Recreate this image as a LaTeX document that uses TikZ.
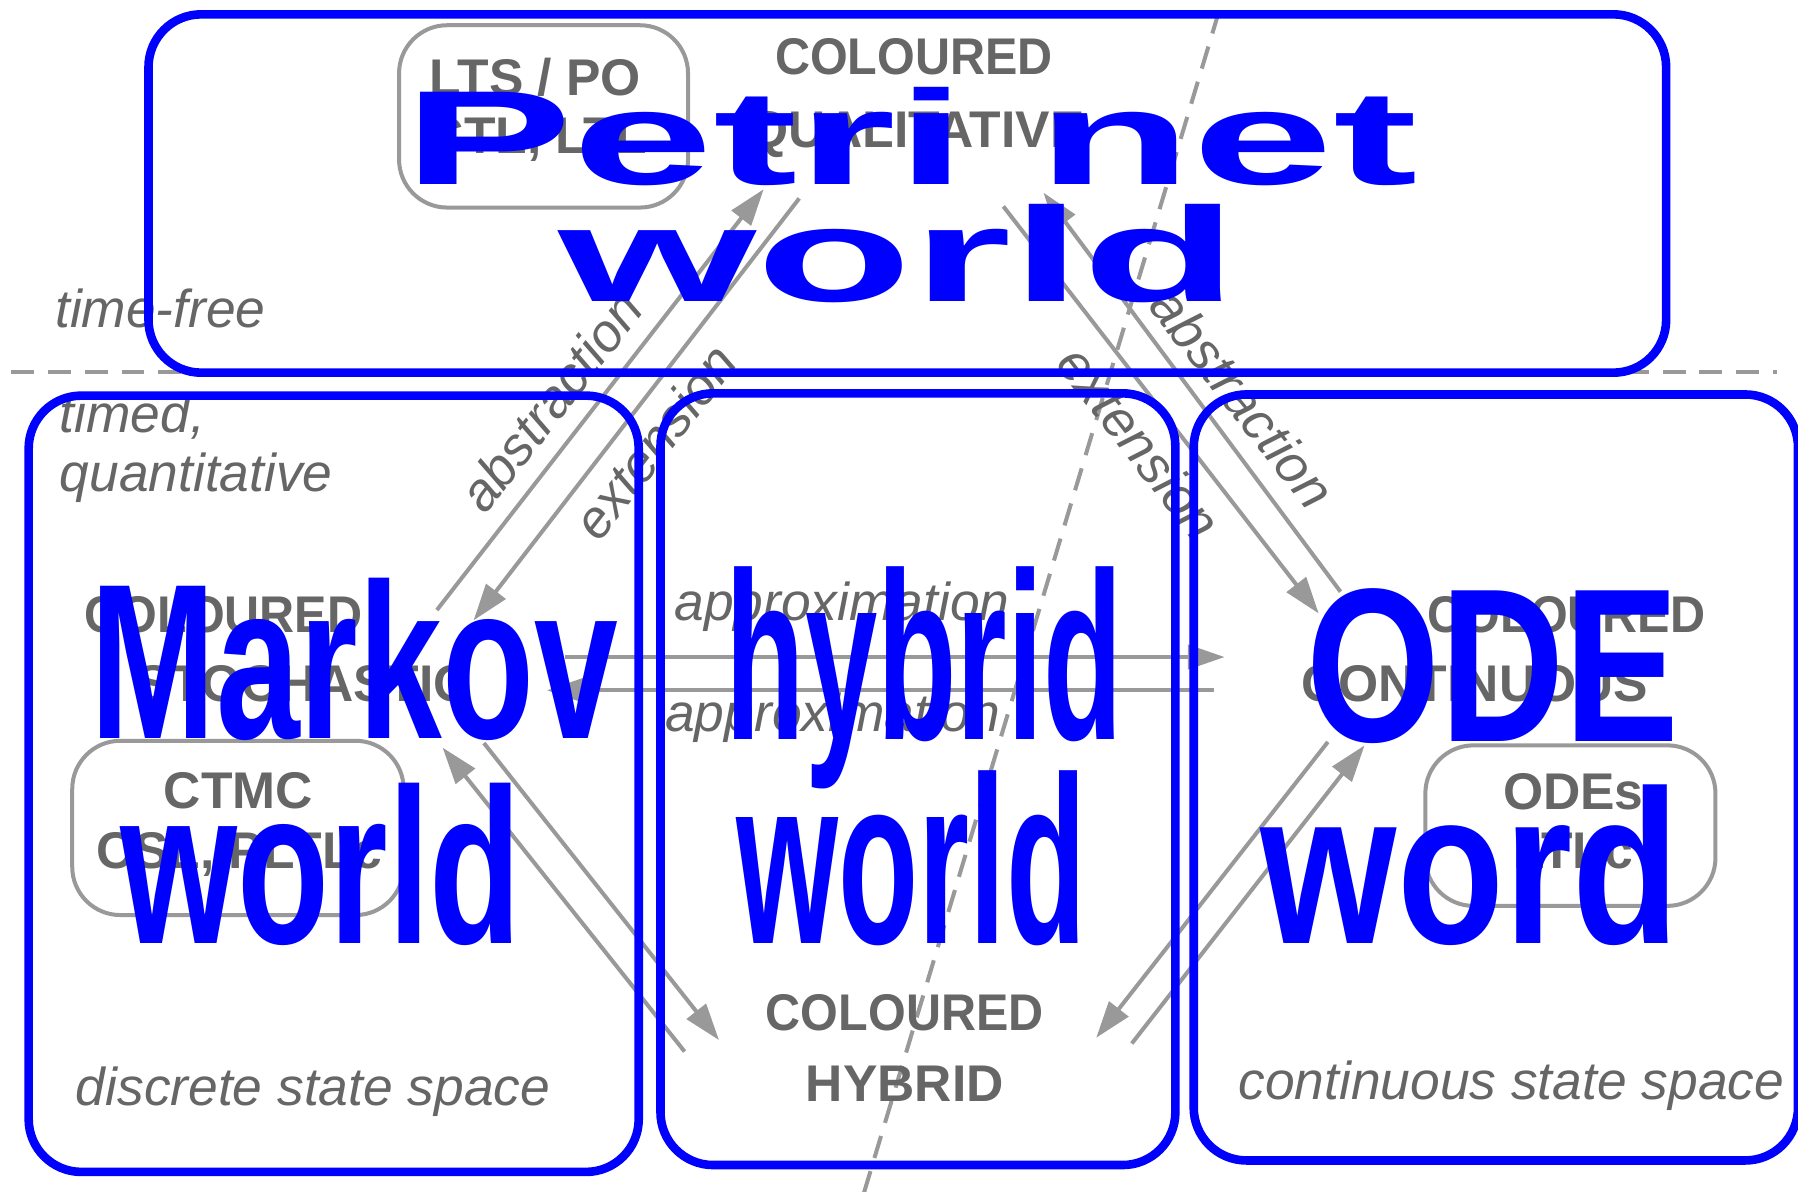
\documentclass[tikz,border=0pt]{standalone}
\usepackage{fontspec}
\usepackage{graphicx}
\setmainfont{Liberation Sans}
\usetikzlibrary{arrows.meta}
\definecolor{wblue}{HTML}{0000FF}
\definecolor{lgray}{HTML}{999999}
\definecolor{tgray}{HTML}{666666}
\newcommand{\narrowcol}{\scalebox{0.94}[1]{COLOURED}}
\begin{document}
\begin{tikzpicture}[x=1pt,y=-1pt,
  worldbox/.style={draw=wblue, line width=7.5pt, rounded corners=46pt},
  toolbox/.style={draw=lgray, line width=3.5pt, rounded corners=42pt},
  divider/.style={draw=lgray, line width=3.5pt, dash pattern=on 20pt off 12pt},
  conn/.style={draw=lgray, line width=3.5pt, -{Triangle[length=32pt,width=21pt]}},
  gtext/.style={text=tgray, font=\fontsize{45}{52}\selectfont\bfseries, inner sep=0pt, anchor=base},
  itext/.style={text=tgray, font=\fontsize{46.5}{52}\selectfont\itshape, inner sep=0pt},
  btext/.style={text=wblue, inner sep=0pt, anchor=base},
]
\useasboundingbox (0,0) rectangle (1568,1039);

% dividers
\coordinate (hdL) at (10,324); \coordinate (hdR) at (1550,324);
\coordinate (ddT) at (1063,10); \coordinate (ddB) at (752,1045);
\draw[divider] (hdL) -- (hdR);
\draw[divider] (ddT) -- (ddB);

% tool boxes
\draw[toolbox] (348,22) rectangle (600,181);
\draw[toolbox] (63,646) rectangle (352,798);
\draw[toolbox] (1243,650) rectangle (1496,790);

% grey texts
\node[gtext] (ltspo) at (467,83) {LTS / PO};
\node[gtext] (ctlltl) at (468,134) {CTL, LTL};
\node[gtext] (colq1) at (797,65) {\narrowcol};
\node[gtext] (colq2) at (799,129) {QUALITATIVE};
\node[gtext] (cols1) at (195,552) {\narrowcol};
\node[gtext] (cols2) at (265,612) {STOCHASTIC};
\node[gtext] (ctmc) at (208,705) {CTMC};
\node[gtext] (csl) at (209,757) {CSL, PLTLc};
\node[gtext] (colh1) at (789,899) {\narrowcol};
\node[gtext] (colh2) at (789,961) {HYBRID};
\node[gtext] (colc1) at (1366,552) {\narrowcol};
\node[gtext] (colc2) at (1286,612) {CONTINUOUS};
\node[gtext] (odes) at (1372,706) {ODEs};
\node[gtext] (ltlc) at (1372,757) {LTLc};

% connectors
\coordinate (a1s) at (381,532);  \coordinate (a1e) at (666,165);
\coordinate (a2s) at (697,173);  \coordinate (a2e) at (413,541);
\coordinate (a3s) at (875,180);  \coordinate (a3e) at (1150,535);
\coordinate (a4s) at (1169,516); \coordinate (a4e) at (910,168);
\coordinate (a5s) at (493,573);  \coordinate (a5e) at (1068,573);
\coordinate (a6s) at (1059,602); \coordinate (a6e) at (477,602);
\coordinate (a7s) at (422,648);  \coordinate (a7e) at (627,907);
\coordinate (a8s) at (597,917);  \coordinate (a8e) at (386,652);
\coordinate (a9s) at (1158,647); \coordinate (a9e) at (956,905);
\coordinate (a10s) at (987,910); \coordinate (a10e) at (1190,650);
\foreach \i in {1,...,10} \draw[conn] (a\i s) -- (a\i e);

% connector labels
\node[itext, rotate=52] (absL) at (480,350) {abstraction};
\node[itext, rotate=52] (extL) at (571,385) {extension};
\node[itext, rotate=-52] (absR) at (1084,347) {abstraction};
\node[itext, rotate=-52] (extR) at (994,386) {extension};
\node[itext, anchor=base west] (appU) at (588,541) {approximation};
\node[itext, anchor=base west] (appL) at (580,638) {approximation};

% region labels
\node[itext, anchor=base west] (tfree) at (48,286) {time-free};
\node[itext, anchor=base west] (timed) at (52,377) {\begin{tabular}[t]{@{}l@{}}timed,\\quantitative\end{tabular}};
\node[itext, anchor=base west] (disc) at (66,964) {discrete state space};
\node[itext, anchor=base west] (cont) at (1080,959) {continuous state space};

% world boxes
\draw[worldbox] (129.5,12.5) rectangle (1453,325);
\draw[worldbox] (25,345) rectangle (557,1022);
\draw[worldbox] (576,343) rectangle (1025,1016);
\draw[worldbox] (1041,344) rectangle (1568,1012);

% world titles
\node[btext, font=\fontsize{117}{117}\selectfont\bfseries] (petri1) at (794,161) {\scalebox{1.89}[1]{Petri net}};
\node[btext, font=\fontsize{117}{117}\selectfont\bfseries] (petri2) at (783,263) {\scalebox{1.9}[1]{world}};
\node[btext, font=\fontsize{193}{193}\selectfont\bfseries] (markov1) at (309,644) {\scalebox{0.68}[1]{Markov}};
\node[btext, font=\fontsize{193}{193}\selectfont\bfseries] (markov2) at (280,823) {\scalebox{0.68}[1]{world}};
\node[btext, font=\fontsize{208}{208}\selectfont\bfseries] (hybrid1) at (806,645) {\scalebox{0.545}[1]{hybrid}};
\node[btext, font=\fontsize{208}{208}\selectfont\bfseries] (hybrid2) at (795,823) {\scalebox{0.55}[1]{world}};
\node[btext, font=\fontsize{191}{191}\selectfont\bfseries] (ode1) at (1302,647) {\scalebox{0.785}[1]{ODE}};
\node[btext, font=\fontsize{191}{191}\selectfont\bfseries] (ode2) at (1282,823) {\scalebox{0.8}[1]{word}};
\end{tikzpicture}
\end{document}
